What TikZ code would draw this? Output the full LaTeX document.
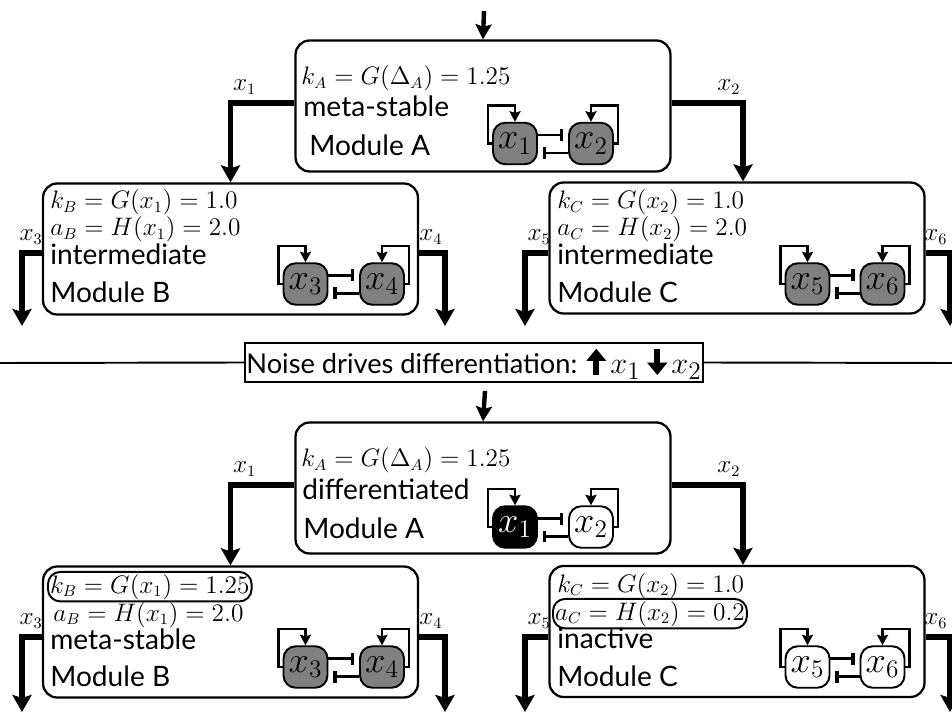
\documentclass[tikz,border=0pt]{standalone}
\usepackage{fontspec}
\setsansfont{Lato}
\usetikzlibrary{arrows.meta}
\definecolor{genegray}{gray}{0.5}
\tikzset{
  module/.style={draw, line width=1.3pt, rounded corners=8pt, minimum width=7.5cm, minimum height=2.62cm, inner sep=0pt},
  gene/.style={draw, line width=1.1pt, rounded corners=7pt, minimum width=0.88cm, minimum height=0.83cm, inner sep=0pt, font=\fontsize{20}{20}\selectfont},
  genemid/.style={gene, fill=genegray},
  genehi/.style={gene, fill=black, text=white},
  genelo/.style={gene, fill=white},
  param/.style={anchor=base west, inner sep=0pt, font=\fontsize{13.5}{14}\selectfont},
  state/.style={anchor=base west, inner sep=0pt, font=\sffamily\fontsize{16}{16}\selectfont},
  circled/.style={draw, line width=1.1pt, rounded corners=7pt, inner sep=1.2pt},
  branch/.style={line width=2.9pt, -{Stealth[length=0.34cm, width=0.38cm, inset=0.06cm]}},
  flow/.style={line width=2.5pt, -{Stealth[length=0.3cm, width=0.32cm, inset=0.05cm]}},
  selfact/.style={line width=1.5pt, -{Stealth[length=0.21cm, width=0.22cm, inset=0.03cm]}},
  inhib/.style={line width=1.5pt, -{Bar[width=0.24cm, line width=1.8pt]}, shorten >=0.1cm},
  lbl/.style={inner sep=0pt, yshift=0.12cm, font=\fontsize{13.5}{14}\selectfont},
  noisebox/.style={draw, line width=1.4pt, minimum width=9.16cm, minimum height=0.78cm, inner sep=0pt, font=\sffamily\fontsize{15.5}{15.5}\selectfont},
  sep/.style={line width=1.1pt}
}
\newcommand{\upar}{\tikz[baseline=0pt]\draw[line width=3.2pt,-{Triangle[length=7pt,width=11pt]}] (0,-1pt) -- (0,14pt);}
\newcommand{\dnar}{\tikz[baseline=0pt]\draw[line width=3.2pt,-{Triangle[length=7pt,width=11pt]}] (0,14pt) -- (0,-1pt);}
\newcommand{\bigmath}[1]{{\fontsize{19}{19}\selectfont$#1$}}
\begin{document}
\begin{tikzpicture}[x=0.02cm, y=-0.02cm]
  \useasboundingbox (0,0) rectangle (952,715);
  % before noise
  \coordinate (in1) at (484,11);
  \node[module] (A1) at (483,106) {};
  \node[module] (B1) at (230.5,249) {};
  \node[module] (C1) at (737,248) {};
  \node[param] (kA1) at (301,84.5) {$k_A = G(\Delta_A) = 1.25$};
  \node[state] (sA1) at (303,116.5) {meta-stable};
  \node[state] (mA1) at (309,156) {Module A};
  \node[param] (kB1) at (50,209) {$k_B = G(x_1) = 1.0$};
  \node[param] (aB1) at (50,236) {$a_B = H(x_1) = 2.0$};
  \node[state] (sB1) at (50,265) {intermediate};
  \node[state] (mB1) at (50,302.5) {Module B};
  \node[param] (kC1) at (557,209) {$k_C = G(x_2) = 1.0$};
  \node[param] (aC1) at (557,236) {$a_C = H(x_2) = 2.0$};
  \node[state] (sC1) at (557,265) {intermediate};
  \node[state] (mC1) at (557,303) {Module C};
  \node[genemid] (x1t) at (515,143.5) {$x_1$};
  \node[genemid] (x2t) at (591,143.5) {$x_2$};
  \node[genemid] (x3t) at (305.5,284) {$x_3$};
  \node[genemid] (x4t) at (382,284) {$x_4$};
  \node[genemid] (x5t) at (807.5,284) {$x_5$};
  \node[genemid] (x6t) at (882.5,284) {$x_6$};
  \coordinate (o3t) at (22,326);
  \coordinate (o4t) at (445,326);
  \coordinate (o5t) at (525,326);
  \coordinate (o6t) at (950,326);
  \draw[flow] (in1) -- (A1.north);
  \draw[branch] ([yshift=0.06cm]A1.west) -| node[lbl, anchor=south west] {$x_1$} (B1.north);
  \draw[branch] ([yshift=0.06cm]A1.east) -| node[lbl, anchor=south east] {$x_2$} ([xshift=0.12cm]C1.north);
  \draw[branch] ([yshift=-0.08cm]B1.west) -| node[lbl, anchor=south west, xshift=-0.1cm] {$x_3$} (o3t);
  \draw[branch] ([yshift=-0.08cm]B1.east) -| node[lbl, anchor=south east] {$x_4$} (o4t);
  \draw[branch] ([yshift=-0.1cm]C1.west) -| node[lbl, anchor=south west] {$x_5$} (o5t);
  \draw[branch] ([yshift=-0.1cm]C1.east) -| node[lbl, anchor=south east] {$x_6$} (o6t);

  % noise
  \node[noisebox] (noise) at (474,362.5) {Noise drives differentiation: \upar\,\bigmath{x_1}\ \dnar\,\bigmath{x_2}};
  \coordinate (sepL) at (0,363);
  \coordinate (sepR) at (952,363);
  \coordinate (in2) at (485,391);
  \draw[sep] (sepL) -- (noise.west);
  \draw[sep] (noise.east) -- (sepR);

  % after noise
  \node[module] (A2) at (483,488) {};
  \node[module] (B2) at (230.5,632) {};
  \node[module] (C2) at (737,631.5) {};
  \node[param] (kA2) at (301,466.5) {$k_A = G(\Delta_A) = 1.25$};
  \node[state] (sA2) at (302,499) {differentiated};
  \node[state] (mA2) at (303,538) {Module A};
  \node[param, circled] (kB2) at (47,593) {$k_B = G(x_1) = 1.25$};
  \node[param] (aB2) at (53,621) {$a_B = H(x_1) = 2.0$};
  \node[state] (sB2) at (50,649) {meta-stable};
  \node[state] (mB2) at (50,686) {Module B};
  \node[param] (kC2) at (557,592) {$k_C = G(x_2) = 1.0$};
  \node[param, circled] (aC2) at (552,620) {$a_C = H(x_2) = 0.2$};
  \node[state] (sC2) at (557,648) {inactive};
  \node[state] (mC2) at (557,686) {Module C};
  \node[genehi] (x1b) at (515,527) {$x_1$};
  \node[genelo] (x2b) at (591,527) {$x_2$};
  \node[genemid] (x3b) at (305.5,667) {$x_3$};
  \node[genemid] (x4b) at (382,667) {$x_4$};
  \node[genelo] (x5b) at (807.5,667) {$x_5$};
  \node[genelo] (x6b) at (882.5,667) {$x_6$};
  \coordinate (o3b) at (22,712);
  \coordinate (o4b) at (445,712);
  \coordinate (o5b) at (525,712);
  \coordinate (o6b) at (950,712);
  \draw[flow] (in2) -- (A2.north);
  \draw[branch] ([yshift=0.06cm]A2.west) -| node[lbl, anchor=south west] {$x_1$} (B2.north);
  \draw[branch] ([yshift=0.06cm]A2.east) -| node[lbl, anchor=south east] {$x_2$} ([xshift=0.12cm]C2.north);
  \draw[branch] ([yshift=-0.1cm]B2.west) -| node[lbl, anchor=south west, xshift=-0.1cm] {$x_3$} (o3b);
  \draw[branch] ([yshift=-0.1cm]B2.east) -| node[lbl, anchor=south east] {$x_4$} (o4b);
  \draw[branch] ([yshift=-0.11cm]C2.west) -| node[lbl, anchor=south west] {$x_5$} (o5b);
  \draw[branch] ([yshift=-0.11cm]C2.east) -| node[lbl, anchor=south east] {$x_6$} (o6b);

  % toggle switches
  \foreach \l/\r in {x1t/x2t, x3t/x4t, x5t/x6t, x1b/x2b, x3b/x4b, x5b/x6b} {
    \draw[selfact] (\l.west) -- ++(-4,0) -- ++(0,-38) -| (\l.north);
    \draw[selfact] (\r.east) -- ++(4,0) -- ++(0,-38) -| (\r.north);
    \draw[inhib] ([yshift=0.17cm]\l.east) -- ([yshift=0.17cm]\r.west);
    \draw[inhib] ([yshift=-0.19cm]\r.west) -- ([yshift=-0.19cm]\l.east);
  }
\end{tikzpicture}
\end{document}
